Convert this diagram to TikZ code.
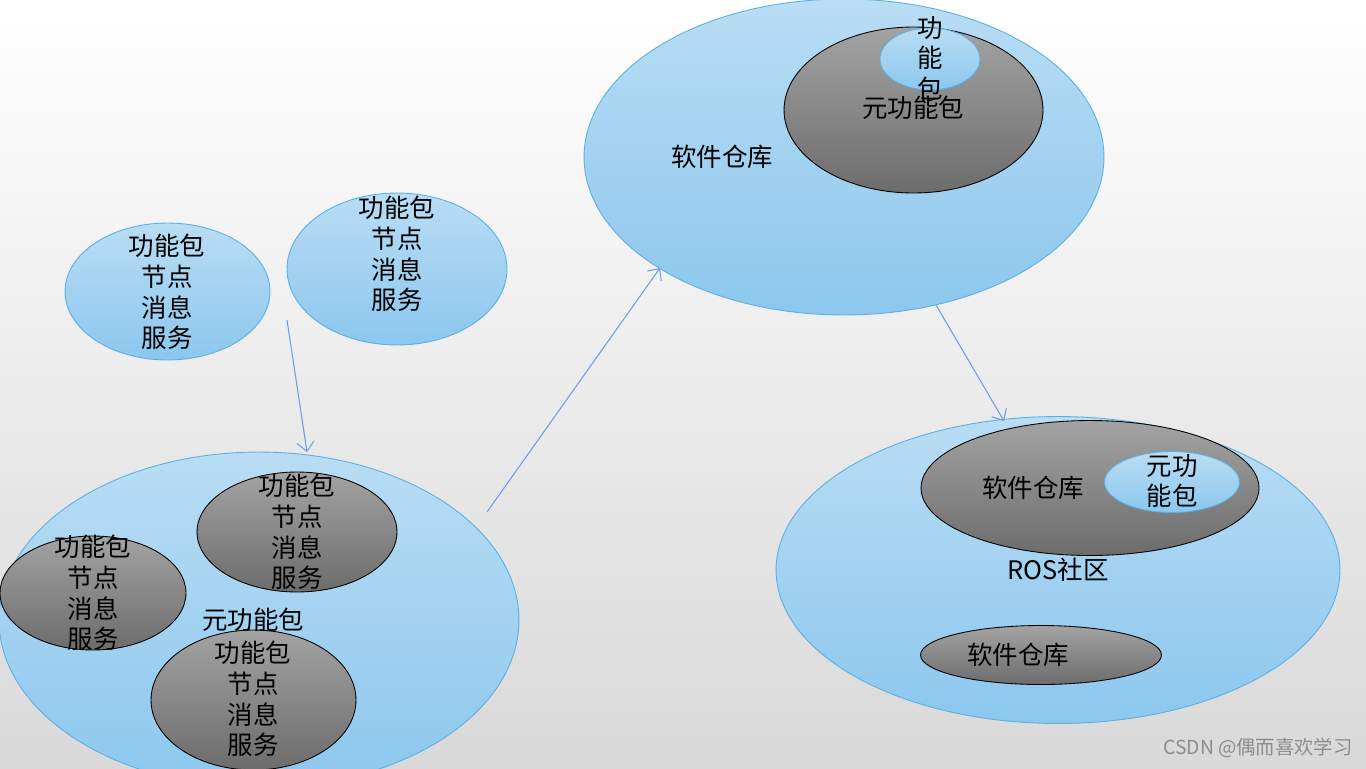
\documentclass[tikz,border=0pt]{standalone}
\usepackage{fontspec}
\setmainfont{Noto Sans CJK SC}
\usepackage{tikz}
\usetikzlibrary{positioning,arrows.meta,shapes.geometric}

\definecolor{blueTop}{HTML}{B9DDF4}
\definecolor{blueBot}{HTML}{8CC7EE}
\definecolor{blueEdge}{HTML}{5AB0E2}
\definecolor{grayTop}{HTML}{A3A3A3}
\definecolor{grayBot}{HTML}{6C6C6C}
\definecolor{arrowBlue}{HTML}{6E9DE6}

\begin{document}
\begin{tikzpicture}[
  x=0.02cm,y=-0.02cm,
  blueell/.style={ellipse,draw=blueEdge,line width=0.5pt,top color=blueTop,bottom color=blueBot,inner sep=0pt,outer sep=0pt},
  grayell/.style={ellipse,draw=black,line width=0.5pt,top color=grayTop,bottom color=grayBot,inner sep=0pt,outer sep=0pt},
  lbl/.style={align=center,inner sep=0pt,font=\fontsize{14.5}{17.4}\selectfont},
  arr/.style={-{Straight Barb[length=1.8mm,width=3.4mm]},draw=arrowBlue,line width=0.6pt}
]
\useasboundingbox (0,0) rectangle (1366,768);
\clip (0,0) rectangle (1366,768);
\shade[top color=white,bottom color=black!15] (0,0) rectangle (1366,768);

% free packages
\node[blueell,minimum width=4.1cm,minimum height=2.74cm] (pkgA) at (167.5,291.5) {};
\node[blueell,minimum width=4.4cm,minimum height=3.04cm] (pkgB) at (397,269) {};

% meta package (left)
\node[blueell,minimum width=10.4cm,minimum height=6.72cm] (meta) at (259,620) {};
\node[grayell,minimum width=4.0cm,minimum height=2.4cm] (metaA) at (297,532) {};
\node[grayell,minimum width=3.72cm,minimum height=2.28cm] (metaB) at (93,593) {};
\node[grayell,minimum width=4.1cm,minimum height=2.8cm] (metaC) at (253.5,700) {};

% repository (top)
\node[blueell,minimum width=10.4cm,minimum height=6.32cm] (repo) at (844,157) {};
\node[grayell,minimum width=5.18cm,minimum height=3.32cm] (repoMeta) at (913.5,110) {};
\node[blueell,minimum width=2.0cm,minimum height=1.24cm] (repoPkg) at (930,59) {};

% ROS community
\node[blueell,minimum width=11.28cm,minimum height=6.14cm] (ros) at (1058,570) {};
\node[grayell,minimum width=6.76cm,minimum height=2.7cm] (rosRepoA) at (1090,488) {};
\node[blueell,minimum width=2.7cm,minimum height=1.22cm] (rosMeta) at (1172,482) {};
\node[grayell,minimum width=4.82cm,minimum height=1.18cm] (rosRepoB) at (1041,655) {};

% texts
\node[lbl] (pkgA-txt) at (167,292) {功能包\\节点\\消息\\服务};
\node[lbl] (pkgB-txt) at (397,254) {功能包\\节点\\消息\\服务};
\node[lbl] (metaA-txt) at (297,532) {功能包\\节点\\消息\\服务};
\node[lbl] (metaB-txt) at (93,593) {功能包\\节点\\消息\\服务};
\node[lbl] (metaC-txt) at (253,699) {功能包\\节点\\消息\\服务};
\node[lbl] (meta-txt) at (253,620) {元功能包};
\node[lbl] (repo-txt) at (722,157) {软件仓库};
\node[lbl] (repoMeta-txt) at (913,108) {元功能包};
\node[lbl] (repoPkg-txt) at (930,58) {功\\能\\包};
\node[lbl] (ros-txt) at (1058,570) {ROS社区};
\node[lbl] (rosRepoA-txt) at (1033,488) {软件仓库};
\node[lbl] (rosMeta-txt) at (1172,481) {元功\\能包};
\node[lbl] (rosRepoB-txt) at (1018,655) {软件仓库};

% arrows
\coordinate (a1s) at (287,320);
\coordinate (a1e) at (307,452);
\coordinate (a2s) at (487,512);
\coordinate (a2e) at (660,268);
\coordinate (a3s) at (936,305);
\coordinate (a3e) at (1004,421);
\draw[arr] (a1s) -- (a1e);
\draw[arr] (a2s) -- (a2e);
\draw[arr] (a3s) -- (a3e);

\node[text=black!45,font=\fontsize{11}{13}\selectfont,inner sep=0pt] (mark) at (1258,748) {CSDN @偶而喜欢学习};
\end{tikzpicture}
\end{document}
